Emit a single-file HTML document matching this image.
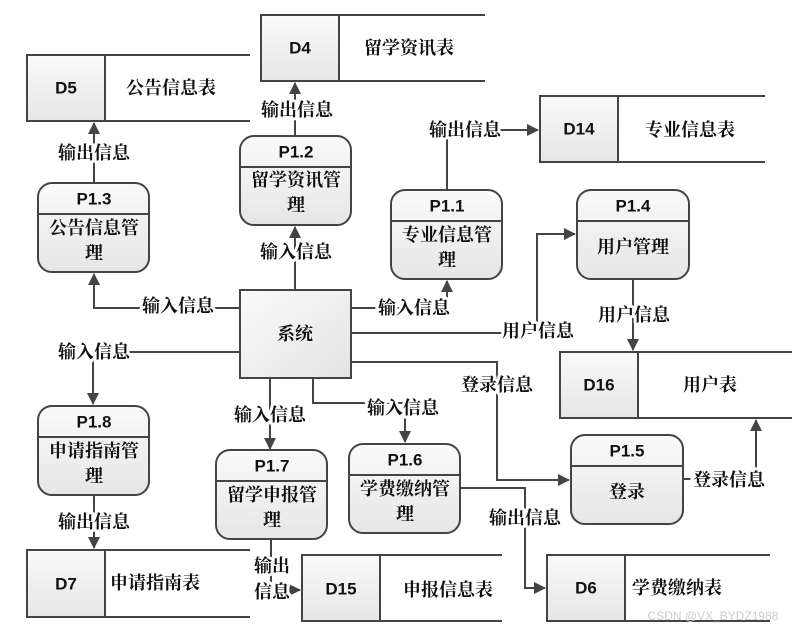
<!DOCTYPE html>
<html><head><meta charset="utf-8"><style>
html,body{margin:0;padding:0;background:#fff;}
svg{display:block;}
.t{font-family:"Liberation Serif","Noto Serif CJK SC",serif;font-size:18px;font-weight:bold;fill:#111;text-anchor:middle;dominant-baseline:central;}
.lb{paint-order:stroke;stroke:#fff;stroke-width:6px;stroke-linejoin:round;}
.id{font-family:"Liberation Sans",sans-serif;font-size:17px;font-weight:bold;fill:#111;text-anchor:middle;dominant-baseline:central;}
.ln{stroke:#444;stroke-width:2;fill:none;}
</style></head><body>
<svg width="793" height="633" viewBox="0 0 793 633" xmlns="http://www.w3.org/2000/svg">
<defs>
<linearGradient id="g" x1="0" y1="0" x2="0" y2="1"><stop offset="0" stop-color="#fafafa"/><stop offset="1" stop-color="#e6e6e6"/></linearGradient>
<linearGradient id="g2" x1="0" y1="0" x2="1" y2="1"><stop offset="0" stop-color="#fafafa"/><stop offset="1" stop-color="#e4e4e4"/></linearGradient>
<marker id="a" markerWidth="12" markerHeight="12" refX="11" refY="6" orient="auto" markerUnits="userSpaceOnUse"><path d="M0,0 L12,6 L0,12 z" fill="#444"/></marker>
</defs>

<g class="ln">
<path d="M240,308 H94 V274" marker-end="url(#a)"/>
<path d="M94,183 V123" marker-end="url(#a)"/>
<path d="M295,290 V227" marker-end="url(#a)"/>
<path d="M295,136 V83" marker-end="url(#a)"/>
<path d="M351,308 H447 V281" marker-end="url(#a)"/>
<path d="M447,190 V130 H538" marker-end="url(#a)"/>
<path d="M351,333 H537 V234 H575" marker-end="url(#a)"/>
<path d="M633,279 V350" marker-end="url(#a)"/>
<path d="M351,362 H497 V480 H569" marker-end="url(#a)"/>
<path d="M683,479 H756 V420" marker-end="url(#a)"/>
<path d="M240,352 H93 V404" marker-end="url(#a)"/>
<path d="M94,495 V548" marker-end="url(#a)"/>
<path d="M270,379 V449" marker-end="url(#a)"/>
<path d="M313,379 V403 H405 V442" marker-end="url(#a)"/>
<path d="M460,488 H525 V588 H545" marker-end="url(#a)"/>
<path d="M271,540 V590 H300" marker-end="url(#a)"/>
</g>

<g>
<g transform="translate(27,55)"><rect width="78" height="66" fill="url(#g)" stroke="#444" stroke-width="2"/><path d="M78,0 H223 M78,66 H223" class="ln"/><text x="39" y="33" class="id">D5</text><text x="144" y="33" class="t">公告信息表</text></g>
<g transform="translate(261,15)"><rect width="78" height="66" fill="url(#g)" stroke="#444" stroke-width="2"/><path d="M78,0 H224 M78,66 H224" class="ln"/><text x="39" y="33" class="id">D4</text><text x="148" y="33" class="t">留学资讯表</text></g>
<g transform="translate(540,96)"><rect width="78" height="66" fill="url(#g)" stroke="#444" stroke-width="2"/><path d="M78,0 H225 M78,66 H225" class="ln"/><text x="39" y="33" class="id">D14</text><text x="150" y="34" class="t">专业信息表</text></g>
<g transform="translate(560,352)"><rect width="78" height="66" fill="url(#g)" stroke="#444" stroke-width="2"/><path d="M78,0 H232 M78,66 H232" class="ln"/><text x="39" y="33" class="id">D16</text><text x="150" y="33" class="t">用户表</text></g>
<g transform="translate(27,550)"><rect width="78" height="67" fill="url(#g)" stroke="#444" stroke-width="2"/><path d="M78,0 H223 M78,67 H223" class="ln"/><text x="39" y="34" class="id">D7</text><text x="128" y="33" class="t">申请指南表</text></g>
<g transform="translate(302,555)"><rect width="78" height="66" fill="url(#g)" stroke="#444" stroke-width="2"/><path d="M78,0 H200 M78,66 H200" class="ln"/><text x="39" y="34" class="id">D15</text><text x="146" y="35" class="t">申报信息表</text></g>
<g transform="translate(547,555)"><rect width="78" height="66" fill="url(#g)" stroke="#444" stroke-width="2"/><path d="M78,0 H223 M78,66 H223" class="ln"/><text x="39" y="33" class="id">D6</text><text x="130" y="33" class="t">学费缴纳表</text></g>
</g>

<g>
<g transform="translate(38,183)"><rect width="111" height="89" rx="14" fill="url(#g)" stroke="#444" stroke-width="2"/><path d="M0,31 H111" class="ln"/><text x="56" y="16" class="id">P1.3</text><text x="56" y="45" class="t">公告信息管</text><text x="56" y="70" class="t">理</text></g>
<g transform="translate(240,136)"><rect width="111" height="89" rx="14" fill="url(#g)" stroke="#444" stroke-width="2"/><path d="M0,31 H111" class="ln"/><text x="56" y="16" class="id">P1.2</text><text x="56" y="44" class="t">留学资讯管</text><text x="56" y="69" class="t">理</text></g>
<g transform="translate(391,190)"><rect width="111" height="89" rx="14" fill="url(#g)" stroke="#444" stroke-width="2"/><path d="M0,31 H111" class="ln"/><text x="56" y="16" class="id">P1.1</text><text x="56" y="45" class="t">专业信息管</text><text x="56" y="70" class="t">理</text></g>
<g transform="translate(577,190)"><rect width="112" height="89" rx="14" fill="url(#g)" stroke="#444" stroke-width="2"/><path d="M0,31 H112" class="ln"/><text x="56" y="16" class="id">P1.4</text><text x="56" y="57" class="t">用户管理</text></g>
<g transform="translate(38,406)"><rect width="111" height="89" rx="14" fill="url(#g)" stroke="#444" stroke-width="2"/><path d="M0,31 H111" class="ln"/><text x="56" y="16" class="id">P1.8</text><text x="56" y="45" class="t">申请指南管</text><text x="56" y="70" class="t">理</text></g>
<g transform="translate(216,450)"><rect width="111" height="89" rx="14" fill="url(#g)" stroke="#444" stroke-width="2"/><path d="M0,31 H111" class="ln"/><text x="56" y="16" class="id">P1.7</text><text x="56" y="45" class="t">留学申报管</text><text x="56" y="70" class="t">理</text></g>
<g transform="translate(349,444)"><rect width="111" height="89" rx="14" fill="url(#g)" stroke="#444" stroke-width="2"/><path d="M0,31 H111" class="ln"/><text x="56" y="16" class="id">P1.6</text><text x="56" y="45" class="t">学费缴纳管</text><text x="56" y="70" class="t">理</text></g>
<g transform="translate(571,435)"><rect width="112" height="89" rx="14" fill="url(#g)" stroke="#444" stroke-width="2"/><path d="M0,31 H112" class="ln"/><text x="56" y="16" class="id">P1.5</text><text x="56" y="57" class="t">登录</text></g>
</g>

<rect x="240" y="290" width="111" height="88" fill="url(#g2)" stroke="#444" stroke-width="2"/>
<text x="295" y="334" class="t">系统</text>

<g class="t lb">
<text x="178" y="306">输入信息</text>
<text x="94" y="153">输出信息</text>
<text x="296" y="252">输入信息</text>
<text x="297" y="110">输出信息</text>
<text x="414" y="308">输入信息</text>
<text x="465" y="130">输出信息</text>
<text x="538" y="331">用户信息</text>
<text x="634" y="315">用户信息</text>
<text x="497" y="385">登录信息</text>
<text x="729" y="480">登录信息</text>
<text x="94" y="352">输入信息</text>
<text x="94" y="522">输出信息</text>
<text x="270" y="415">输入信息</text>
<text x="403" y="408">输入信息</text>
<text x="525" y="518">输出信息</text>
<text x="272" y="566">输出</text>
<text x="272" y="592">信息</text>
</g>
<text x="713" y="620" style="font-family:'Liberation Sans',sans-serif;font-size:12px;fill:#ccc;text-anchor:middle;">CSDN @VX_BYDZ1988</text>
</svg>
</body></html>
